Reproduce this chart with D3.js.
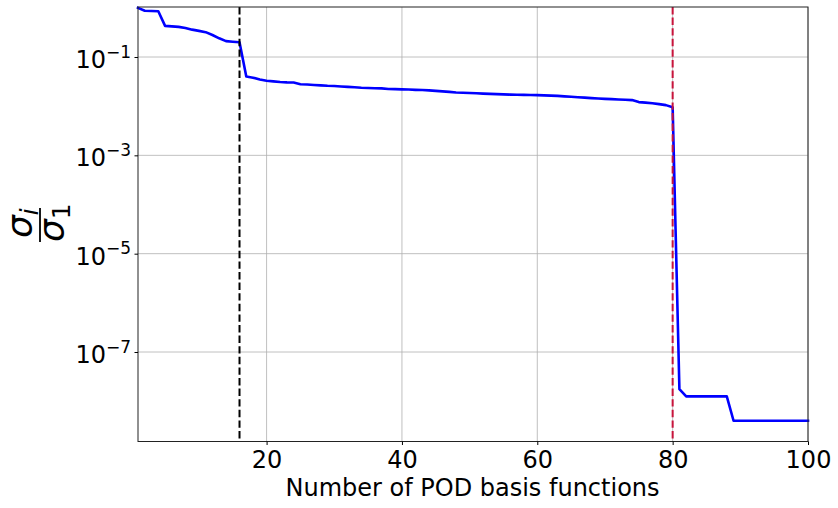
<!DOCTYPE html>
<html>
<head>
<meta charset="utf-8">
<script src="https://cdn.jsdelivr.net/npm/d3@7"></script>
<style>
  html, body { margin: 0; padding: 0; background: #ffffff; }
  svg { display: block; }
  text { font-family: "DejaVu Sans", sans-serif; fill: #000; }
</style>
</head>
<body>
<svg id="chart" width="838" height="508"></svg>
<script>
// ---- data ----
const modeIndex = d3.range(1, 101);
const sigmaRatio = [
  1.0, 0.87, 0.86, 0.85, 0.43, 0.42, 0.41, 0.39, 0.36, 0.34,
  0.32, 0.28, 0.24, 0.21, 0.205, 0.20, 0.040, 0.038, 0.035, 0.033,
  0.032, 0.031, 0.0305, 0.0303, 0.028, 0.0275, 0.027, 0.0265, 0.026, 0.0257,
  0.0252, 0.0247, 0.0242, 0.0237, 0.0234, 0.0232, 0.023, 0.0224, 0.0222, 0.0220,
  0.0218, 0.0215, 0.0213, 0.021, 0.0205, 0.0200, 0.0195, 0.019, 0.0188, 0.0185,
  0.0183, 0.018, 0.0178, 0.0176, 0.0174, 0.0172, 0.0171, 0.0170, 0.0169, 0.0168,
  0.0166, 0.0164, 0.0162, 0.0158, 0.0155, 0.0152, 0.0149, 0.0146, 0.0143, 0.0141,
  0.0139, 0.0137, 0.0135, 0.0133, 0.0121, 0.0118, 0.0115, 0.0110, 0.0105, 0.0095,
  1.75e-8, 1.25e-8, 1.25e-8, 1.25e-8, 1.25e-8, 1.25e-8, 1.25e-8, 1.25e-8, 4.0e-9, 4.0e-9,
  4.0e-9, 4.0e-9, 4.0e-9, 4.0e-9, 4.0e-9, 4.0e-9, 4.0e-9, 4.0e-9, 4.0e-9, 4.0e-9
];
const xTicks = [20, 40, 60, 80, 100];
const yTickExponents = [-1, -3, -5, -7];
const markerLines = [
  { x: 16, color: "#000000" },
  { x: 80, color: "#c8143c" }
];
const xLabel = "Number of POD basis functions";

// ---- layout ----
const L = 138, R = 808, T = 7, B = 441.5;
const svg = d3.select("#chart");

const x = d3.scaleLinear().domain([1, 100]).range([L, R]);
const y = d3.scaleLog().domain([Math.pow(10, -8.82), Math.pow(10, 0.017)]).range([B, T]);

// grid
const grid = svg.append("g");
grid.selectAll("line.gx").data(xTicks).enter().append("line")
  .attr("x1", d => x(d)).attr("x2", d => x(d)).attr("y1", T).attr("y2", B)
  .attr("stroke", "#b0b0b0").attr("stroke-width", 0.8);
grid.selectAll("line.gy").data(yTickExponents).enter().append("line")
  .attr("x1", L).attr("x2", R).attr("y1", d => y(Math.pow(10, d))).attr("y2", d => y(Math.pow(10, d)))
  .attr("stroke", "#b0b0b0").attr("stroke-width", 0.8);

// data line
const line = d3.line().x((d, i) => x(modeIndex[i])).y(d => y(d));
svg.append("path").datum(sigmaRatio)
  .attr("d", line).attr("fill", "none")
  .attr("stroke", "#0000ff").attr("stroke-width", 2.6)
  .attr("stroke-linejoin", "round").attr("stroke-linecap", "square");

// vertical dashed lines
svg.selectAll("line.vl").data(markerLines).enter().append("line")
  .attr("x1", d => x(d.x)).attr("x2", d => x(d.x)).attr("y1", T).attr("y2", B)
  .attr("stroke", d => d.color).attr("stroke-width", 2)
  .attr("stroke-dasharray", "7.4,3.2");

// frame
svg.append("rect").attr("x", L).attr("y", T).attr("width", R - L).attr("height", B - T)
  .attr("fill", "none").attr("stroke", "#222").attr("stroke-width", 1);

// x axis
const xAxis = svg.append("g").attr("transform", `translate(0,${B})`)
  .call(d3.axisBottom(x).tickValues(xTicks).tickSize(3.5).tickPadding(6).tickFormat(d3.format("d")));
xAxis.select(".domain").remove();
xAxis.selectAll(".tick line").attr("stroke", "#000").attr("stroke-width", 1);
xAxis.selectAll(".tick text")
  .attr("font-size", 24).attr("font-family", "DejaVu Sans");

// y axis
const yAxis = svg.append("g").attr("transform", `translate(${L},0)`)
  .call(d3.axisLeft(y).tickValues(yTickExponents.map(e => Math.pow(10, e))).tickSize(3.5).tickPadding(3.5).tickFormat(() => ""));
yAxis.select(".domain").remove();
yAxis.selectAll(".tick line").attr("stroke", "#000").attr("stroke-width", 1);
yAxis.selectAll(".tick text").each(function (d) {
  const t = d3.select(this);
  const e = Math.round(Math.log10(d));
  t.text(null)
    .attr("font-size", 24).attr("font-family", "DejaVu Sans")
    .attr("dy", 10.5);
  t.append("tspan").text("10");
  t.append("tspan").attr("font-size", 17).attr("dy", -10.5).text("\u2212" + Math.abs(e));
});

// x label
svg.append("text")
  .attr("x", (L + R) / 2 - 0.5).attr("y", 495.5)
  .attr("text-anchor", "middle").attr("font-size", 24)
  .text(xLabel);

// y label: sigma_i / sigma_1 fraction, rotated
const yl = svg.append("g").attr("transform", "translate(40,225) rotate(-90)");
yl.append("line").attr("x1", -17).attr("x2", 17).attr("y1", 0).attr("y2", 0)
  .attr("stroke", "#000").attr("stroke-width", 1.8);
const num = yl.append("text").attr("x", -13).attr("y", -8).attr("font-size", 36)
  .attr("font-family", "DejaVu Sans").attr("font-style", "italic");
num.append("tspan").text("σ");
num.append("tspan").attr("font-size", 25).attr("dy", 6).text("i");
const den = yl.append("text").attr("x", -17).attr("y", 24).attr("font-size", 36)
  .attr("font-family", "DejaVu Sans");
den.append("tspan").attr("font-style", "italic").text("σ");
den.append("tspan").attr("font-size", 25).attr("dy", 6).text("1");
</script>
</body>
</html>
